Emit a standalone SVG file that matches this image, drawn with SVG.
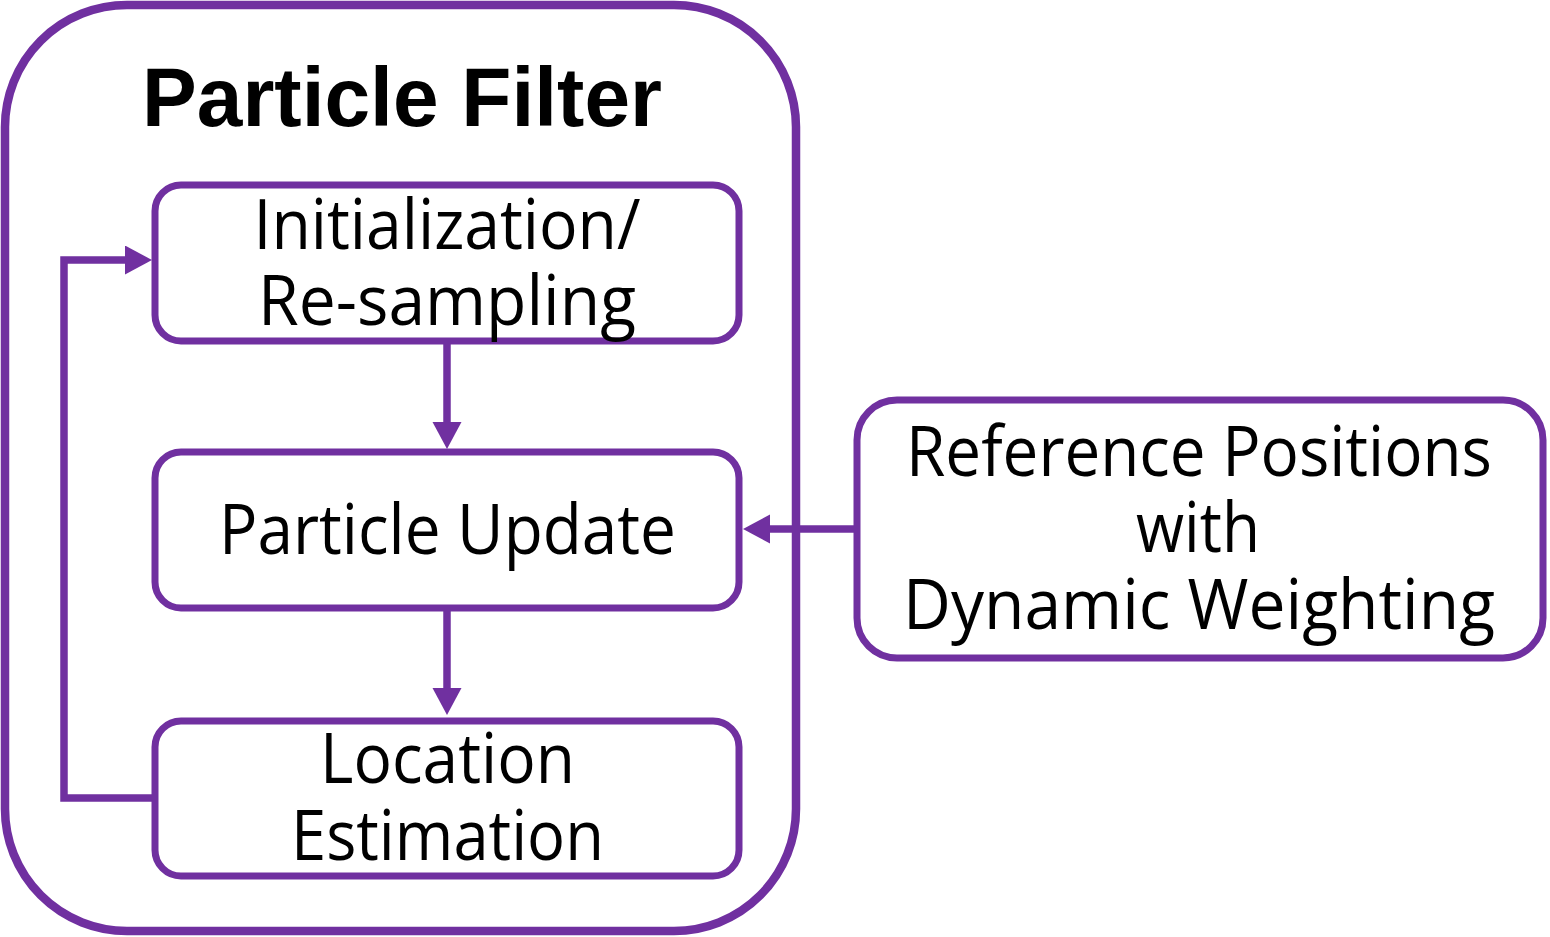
<svg xmlns="http://www.w3.org/2000/svg" width="1550" height="937" viewBox="0 0 1550 937">
<style>
.box{fill:#fff;stroke:#7030A0;stroke-width:7}
.outer{fill:#fff;stroke:#7030A0;stroke-width:8.5}
.conn{fill:none;stroke:#7030A0;stroke-width:7.5}
.lbl{font-family:"Open Sans","Noto Sans","Liberation Sans",sans-serif;font-size:69px;fill:#000;text-anchor:middle}
.title{font-family:"Liberation Sans",Arial,sans-serif;font-weight:bold;font-size:84px;fill:#000;text-anchor:middle}
</style>
<defs>
<marker id="ah" markerUnits="userSpaceOnUse" markerWidth="28" markerHeight="30" refX="7" refY="14.5" orient="auto" viewBox="0 0 28 30">
<path d="M0,0 L27,14.5 L0,29 Z" fill="#7030A0"/>
</marker>
</defs>
<rect width="1550" height="937" fill="#fff"/>
<g id="particle-filter">
<rect class="outer" x="5" y="5" width="791" height="926" rx="122" ry="122"/>
<text class="title" x="402" y="126" textLength="520" lengthAdjust="spacingAndGlyphs">Particle Filter</text>
</g>
<g id="init">
<rect class="box" x="155" y="185" width="584" height="156" rx="26" ry="26"/>
<text class="lbl" x="447" y="249" textLength="387" lengthAdjust="spacingAndGlyphs">Initialization/</text>
<text class="lbl" x="447" y="325" textLength="378" lengthAdjust="spacingAndGlyphs">Re-sampling</text>
</g>
<g id="update">
<rect class="box" x="155" y="452" width="584" height="156" rx="26" ry="26"/>
<text class="lbl" x="447.5" y="554" textLength="457" lengthAdjust="spacingAndGlyphs">Particle Update</text>
</g>
<g id="estimation">
<rect class="box" x="155" y="721" width="584" height="155" rx="26" ry="26"/>
<text class="lbl" x="447.5" y="783" textLength="255" lengthAdjust="spacingAndGlyphs">Location</text>
<text class="lbl" x="447.5" y="860" textLength="313" lengthAdjust="spacingAndGlyphs">Estimation</text>
</g>
<g id="reference">
<rect class="box" x="857" y="400" width="686" height="258" rx="40" ry="40"/>
<text class="lbl" x="1199" y="476" textLength="586" lengthAdjust="spacingAndGlyphs">Reference Positions</text>
<text class="lbl" x="1198" y="552" textLength="124" lengthAdjust="spacingAndGlyphs">with</text>
<text class="lbl" x="1199" y="629" textLength="592" lengthAdjust="spacingAndGlyphs">Dynamic Weighting</text>
</g>
<g id="connectors">
<path class="conn" d="M155,798 H64 V260 H132" marker-end="url(#ah)"/>
<path class="conn" d="M447,341 V429" marker-end="url(#ah)"/>
<path class="conn" d="M447,608 V695" marker-end="url(#ah)"/>
<path class="conn" d="M857,529 H763" marker-end="url(#ah)"/>
</g>
</svg>
